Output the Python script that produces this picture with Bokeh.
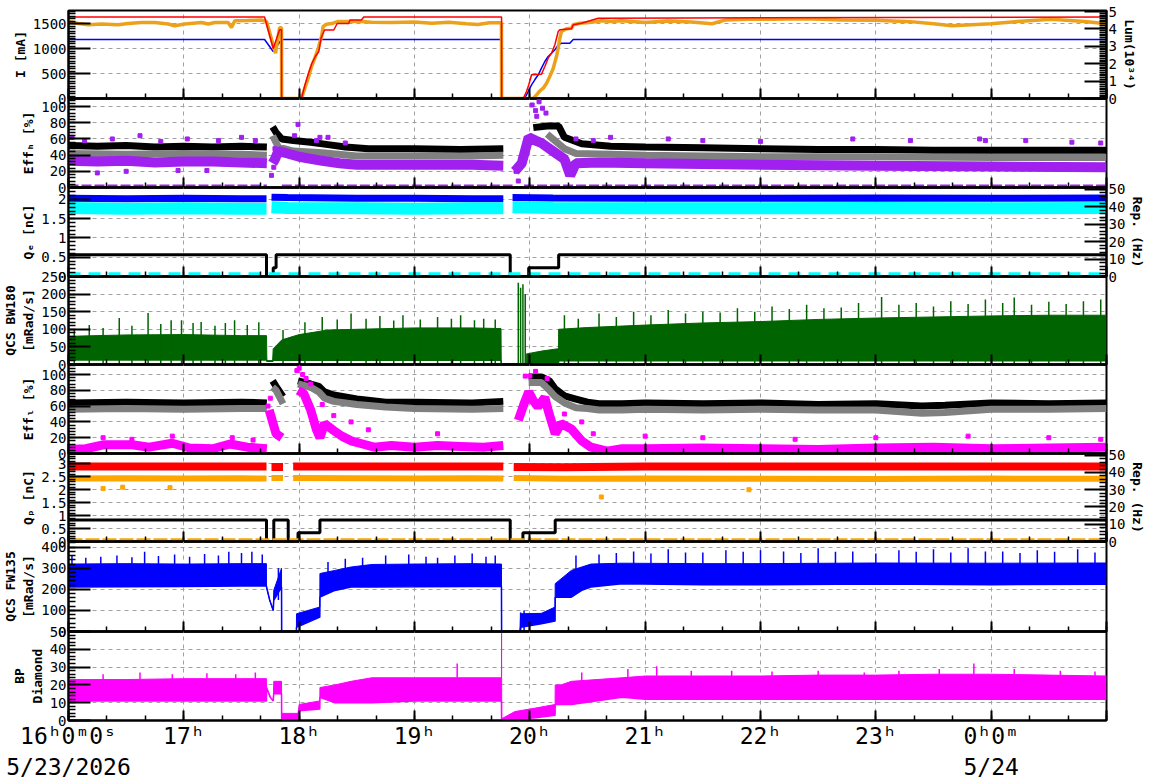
from bokeh.plotting import figure
from bokeh.layouts import column
from bokeh.models import Range1d, LinearAxis, FixedTicker, SingleIntervalTicker
from bokeh.embed import file_html
from bokeh.resources import INLINE

N = float("nan")

# ---------------- Panel 1 : beam currents [mA] and luminosity ----------------
i_red_t = [16.0, 17.70, 17.775, 17.83, 17.847, 17.848, 18.02, 18.05, 18.08, 18.11,
           18.14, 18.17, 18.18, 18.19, 18.22, 18.30, 18.33, 18.43, 18.44, 18.54,
           18.56, 19.755, 19.756, 19.943, 19.971, 19.991, 20.015, 20.101, 20.130, 20.159,
           20.188, 20.217, 20.246, 20.260, 20.361, 20.376, 20.448, 20.593, 25.0]
i_red = [1630, 1630, 1000, 1375, 1375, 0, 0, 270, 500, 700,
         840, 940, 1070, 1210, 1370, 1370, 1500, 1500, 1570, 1570,
         1630, 1630, 0, 0, 140, 274, 474, 486, 640, 806,
         906, 1074, 1340, 1374, 1394, 1474, 1506, 1606, 1630]
i_blue_t = [16.0, 17.70, 17.775, 17.847, 19.755, 19.756, 19.913, 19.957, 19.986, 20.015,
            20.043, 20.073, 20.101, 20.130, 20.159, 20.188, 20.217, 20.246, 20.275, 20.347,
            20.376, 25.0]
i_blue = [1180, 1180, 940, 1180, 1180, 0, 0, 6, 140, 274,
          374, 474, 606, 740, 840, 906, 974, 1074, 1106, 1106,
          1180, 1180]
lum_t = [16.0, 16.085, 16.17, 16.286, 16.43, 16.517, 16.633, 16.748, 16.864, 16.922,
         17.008, 17.153, 17.211, 17.269, 17.384, 17.413, 17.442, 17.55, 17.674, 17.717,
         17.795, 17.83, 17.847, 17.848, 17.992, 18.02, 18.049, 18.078, 18.107, 18.136,
         18.165, 18.194, 18.208, 18.237, 18.295, 18.338, 18.425, 18.54, 18.627, 18.8,
         19.0, 19.15, 19.3, 19.45, 19.55, 19.65, 19.754, 19.755, 20.029, 20.058,
         20.087, 20.116, 20.145, 20.173, 20.203, 20.231, 20.246, 20.26, 20.275, 20.318,
         20.361, 20.376, 20.433, 20.535, 20.621, 20.708, 20.795, 21.0, 21.2, 21.4,
         21.58, 21.7, 21.9, 22.1, 22.4, 22.7, 23.0, 23.3, 23.5, 23.66,
         24.0, 24.23, 24.52, 24.81, 25.0]
lum = [4.43, 4.31, 4.24, 4.28, 4.24, 4.31, 4.37, 4.37, 4.28, 4.18,
       4.28, 4.37, 4.28, 4.37, 4.37, 4.08, 4.47, 4.48, 4.51, 4.43,
       2.6, 4.07, 4.07, 0, 0, 0.02, 0.59, 1.17, 1.84, 2.32,
       2.89, 3.56, 4.14, 4.27, 4.33, 4.43, 4.43, 4.43, 4.39, 4.37,
       4.40, 4.33, 4.38, 4.30, 4.26, 4.35, 4.35, 0, 0, 0.21,
       0.44, 0.59, 0.88, 1.26, 1.74, 2.41, 2.89, 3.47, 3.85, 4.01,
       4.04, 4.24, 4.33, 4.39, 4.47, 4.43, 4.47, 4.37, 4.45, 4.40,
       4.30, 4.52, 4.56, 4.55, 4.58, 4.52, 4.50, 4.42, 4.30, 4.18,
       4.30, 4.43, 4.56, 4.43, 4.30]

# ---------------- Panel 2 : Eff_H [%] ----------------
eh_black_t = [16.0, 16.25, 16.5, 16.75, 17.0, 17.25, 17.5, 17.72, 17.745, 17.77,
              17.8, 17.85, 17.95, 18.1, 18.25, 18.4, 18.6, 19.0, 19.4, 19.77,
              19.9, 20.03, 20.15, 20.25, 20.3, 20.45, 20.7, 21.0, 21.5, 22.0,
              22.5, 23.0, 23.5, 24.0, 24.5, 25.0]
eh_black = [52, 51, 52, 50, 51, 50, 51, 50, N, 75,
            68, 60, 58, 56, 53, 50, 48, 48, 47, 48,
            N, 74, 76, 76, 62, 54, 51, 50, 49, 48,
            47, 47, 46, 46, 46, 46]
eh_gray_t = [16.0, 16.5, 17.0, 17.5, 17.72, 17.745, 17.77, 17.82, 17.95, 18.2,
             18.5, 19.0, 19.5, 19.77, 19.9, 20.15, 20.2, 20.3, 20.4, 20.7,
             21.0, 22.0, 23.0, 24.0, 25.0]
eh_gray = [42, 41, 42, 41, 40, N, 64, 50, 45, 43,
           39, 39, 39, 40, N, 66, 60, 48, 42, 41,
           40, 38, 38, 37, 37]
eh_purple_t = [16.0, 16.25, 16.5, 16.75, 17.0, 17.25, 17.5, 17.72, 17.745, 17.77,
               17.79, 17.82, 17.9, 18.0, 18.2, 18.35, 18.5, 19.0, 19.5, 19.77,
               19.8, 19.87, 19.93, 19.99, 20.05, 20.1, 20.2, 20.3, 20.35, 20.4,
               20.6, 21.0, 22.0, 23.0, 24.0, 25.0]
eh_purple = [33, 32, 33, 31, 32, 32, 31, 30, N, 30,
             35, 45, 42, 38, 33, 30, 28, 28, 28, 27,
             N, 20, 30, 62, 58, 55, 45, 35, 15, 30,
             31, 30, 28, 27, 26, 25]
eh_zero_t = [16.0, 17.72, 17.73, 17.85, 19.85, 19.86, 19.95, 25.0]
eh_zero = [0, 0, N, 0, 0, N, 0, 0]
eh_out_t = [16.03, 16.14, 16.25, 16.38, 16.5, 16.62, 16.8, 16.95, 17.03, 17.2,
            17.3, 17.5, 17.62, 17.76, 17.78, 17.79, 17.96, 17.99, 18.15, 18.18,
            18.25, 18.4, 19.88, 19.9, 19.92, 19.95, 20.02, 20.05, 20.06, 20.08,
            20.11, 20.14, 20.4, 20.55, 20.7, 21.2, 21.5, 22.0, 22.8, 23.3,
            23.9, 23.95, 24.3, 24.7, 24.95]
eh_out = [62, 58, 18, 60, 20, 64, 57, 21, 60, 21,
          58, 62, 58, 15, 25, 48, 64, 78, 58, 62,
          62, 55, 20, 8, 35, 45, 102, 95, 88, 106,
          98, 92, 60, 58, 62, 60, 58, 57, 60, 58,
          60, 58, 58, 56, 55]

# ---------------- Panel 3 : Q_e [nC] / Rep [Hz] ----------------
qe_t = [16.0, 16.5, 17.0, 17.5, 17.717, 17.74, 17.76, 17.9, 18.5, 19.0,
        19.5, 19.77, 19.81, 19.85, 20.2, 21.0, 22.0, 23.0, 24.0, 25.0]
qe_blue = [2.03, 2.02, 2.03, 2.02, 2.02, N, 2.06, 2.05, 2.03, 2.03,
           2.02, 2.02, N, 2.05, 2.04, 2.03, 2.03, 2.04, 2.03, 2.04]
qe_cyan = [1.78, 1.76, 1.77, 1.76, 1.76, N, 1.80, 1.78, 1.77, 1.76,
           1.77, 1.77, N, 1.80, 1.78, 1.77, 1.77, 1.78, 1.77, 1.78]
rep_e_t = [16.0, 17.717, 17.717, 17.775, 17.775, 17.80, 17.80, 19.83, 19.83, 19.99,
           19.99, 20.25, 20.25, 25.0]
rep_e = [12.5, 12.5, 0, 0, 5, 5, 12.5, 12.5, 0, 0,
         5, 5, 12.5, 12.5]
rep_e_zero_t = [16.0, 25.0]
rep_e_zero = [1.0, 1.0]

# ---------------- Panel 4 : QCS BW180 [mRad/s] ----------------
bw_t = [16.0, 16.5, 17.0, 17.5, 17.717, 17.72, 17.77, 17.775, 17.85, 17.95,
        18.0, 18.25, 18.5, 19.0, 19.5, 19.75, 19.752, 19.968, 19.97, 20.1,
        20.249, 20.25, 20.5, 21.0, 21.5, 22.0, 22.5, 23.0, 23.5, 24.0,
        24.5, 25.0]
bw_lo = [13, 13, 13, 13, 13, 9, 9, 12, 12, 12,
         12, 12, 12, 12, 12, 12, 1, 1, 3, 3,
         3, 11, 11, 11, 11, 11, 11, 11, 11, 11,
         11, 11]
bw_hi = [80, 84, 85, 82, 82, 11, 11, 45, 70, 80,
         85, 98, 100, 104, 104, 102, 2, 2, 30, 38,
         45, 100, 105, 112, 118, 122, 128, 132, 135, 138,
         140, 140]
bw_spike_t = [16.05, 16.18, 16.3, 16.44, 16.55, 16.69, 16.8, 16.89, 16.98, 17.08,
              17.15, 17.27, 17.36, 17.44, 17.55, 17.65, 17.86, 18.05, 18.2, 18.33,
              18.45, 18.58, 18.7, 18.82, 18.9, 19.05, 19.2, 19.32, 19.4, 19.52,
              19.6, 19.7, 19.90, 19.92, 19.94, 19.96, 20.3, 20.42, 20.6, 20.75,
              20.9, 21.05, 21.2, 21.35, 21.5, 21.65, 21.8, 21.95, 22.1, 22.25,
              22.4, 22.55, 22.7, 22.85, 23.05, 23.2, 23.35, 23.5, 23.65, 23.8,
              23.95, 24.1, 24.2, 24.35, 24.5, 24.65, 24.8, 24.95]
bw_spike = [100, 112, 104, 132, 110, 146, 115, 126, 126, 118,
            121, 110, 118, 126, 112, 120, 98, 120, 135, 128,
            145, 130, 138, 125, 140, 128, 135, 130, 140, 126,
            130, 128, 232, 218, 228, 200, 140, 130, 145, 135,
            150, 140, 155, 145, 150, 148, 160, 150, 165, 158,
            170, 160, 162, 175, 192, 170, 175, 165, 180, 172,
            185, 175, 190, 170, 178, 172, 180, 185]
bw_spike_base = 1

# ---------------- Panel 5 : Eff_L [%] ----------------
el_t = [16.0, 16.5, 17.0, 17.5, 17.72, 17.745, 17.77, 17.8, 17.86, 17.9,
        17.99, 18.1, 18.17, 18.22, 18.3, 18.5, 18.75, 19.0, 19.5, 19.77,
        19.9, 19.99, 20.1, 20.17, 20.22, 20.3, 20.4, 20.5, 20.6, 20.8,
        21.0, 21.5, 22.0, 22.5, 23.0, 23.4, 23.6, 24.0, 24.5, 25.0]
el_black = [64, 65, 64, 65, 64, N, 92, 85, 72, N,
            92, 88, 85, 78, 74, 69, 65, 65, 64, 66,
            N, 97, 97, 92, 82, 73, 69, 65, 63, 63,
            64, 63, 64, 62, 63, 60, 61, 64, 63, 64]
el_gray = [56, 57, 56, 57, 57, N, 84, 80, 63, N,
           88, 84, 78, 70, 66, 62, 59, 57, 56, 57,
           N, 90, 90, 80, 72, 64, 58, 57, 55, 55,
           56, 55, 56, 55, 55, 51, 52, 56, 56, 57]
el_mag_t = [16.0, 16.15, 16.3, 16.55, 16.7, 16.9, 17.05, 17.25, 17.4, 17.55,
            17.72, 17.73, 17.74, 17.77, 17.8, 17.85, 17.9, 17.99, 18.04, 18.1,
            18.15, 18.18, 18.22, 18.3, 18.37, 18.45, 18.55, 18.65, 18.8, 19.0,
            19.2, 19.4, 19.6, 19.77, 19.83, 19.9, 19.95, 19.99, 20.03, 20.07,
            20.13, 20.16, 20.22, 20.27, 20.36, 20.45, 20.53, 20.67, 20.8, 21.0,
            21.5, 22.0, 22.5, 23.0, 23.5, 24.0, 24.5, 25.0]
el_mag = [5, 6, 11, 11, 8, 13, 7, 6, 12, 8,
          6, N, 55, 40, 25, 20, N, 80, 76, 55,
          30, 20, 38, 29, 22, 16, 12, 8, 10, 8,
          10, 9, 8, 10, N, 42, 63, 78, 67, 59,
          71, 54, 25, 38, 31, 16, 8, 3, 6, 6,
          7, 6, 5, 7, 8, 6, 7, 8]
el_out_t = [16.3, 16.55, 16.9, 17.42, 17.6, 17.73, 17.75, 17.98, 18.0, 18.03,
            18.06, 18.1, 18.2, 18.3, 18.45, 18.6, 19.2, 19.93, 19.96, 20.0,
            20.05, 20.15, 20.3, 20.45, 20.55, 21.0, 21.5, 22.3, 23.0, 23.8,
            24.5, 24.95]
el_out = [20, 18, 22, 20, 17, 60, 70, 105, 108, 100,
          95, 88, 62, 48, 40, 30, 25, 60, 98, 98,
          104, 95, 50, 40, 25, 22, 20, 18, 20, 22,
          20, 18]

# ---------------- Panel 6 : Q_p [nC] / Rep [Hz] ----------------
qp_t = [16.0, 16.5, 17.0, 17.5, 17.717, 17.74, 17.76, 17.86, 17.9, 17.948,
        18.5, 19.0, 19.5, 19.77, 19.82, 19.86, 20.3, 21.0, 22.0, 23.0,
        24.0, 25.0]
qp_red = [2.9, 2.9, 2.9, 2.9, 2.9, N, 2.88, 2.88, N, 2.9,
          2.9, 2.9, 2.9, 2.9, N, 2.88, 2.87, 2.9, 2.9, 2.9,
          2.9, 2.9]
qp_orange = [2.43, 2.44, 2.43, 2.44, 2.43, N, 2.45, 2.45, N, 2.45,
             2.44, 2.43, 2.44, 2.43, N, 2.45, 2.42, 2.43, 2.42, 2.41,
             2.43, 2.42]
qp_out_t = [16.3, 16.47, 16.88, 20.62, 21.9]
qp_out = [2.05, 2.1, 2.08, 1.72, 2.0]
rep_p_t = [16.0, 17.717, 17.717, 17.78, 17.78, 17.905, 17.905, 17.99, 17.99, 18.18,
           18.18, 19.83, 19.83, 19.94, 19.94, 20.22, 20.22, 25.0]
rep_p = [12.5, 12.5, 0, 0, 12.5, 12.5, 0, 0, 5, 5,
         12.5, 12.5, 0, 0, 5, 5, 12.5, 12.5]
rep_p_zero_t = [16.0, 25.0]
rep_p_zero = [0.7, 0.7]

# ---------------- Panel 7 : QCS FW135 [mRad/s] ----------------
fw_t = [16.0, 16.5, 17.0, 17.5, 17.716, 17.717, 17.745, 17.775, 17.78, 17.847,
        17.848, 17.976, 17.977, 18.179, 18.18, 18.31, 18.45, 18.63, 19.0, 19.5,
        19.754, 19.755, 19.915, 19.92, 20.1, 20.219, 20.22, 20.36, 20.45, 20.53,
        20.8, 21.5, 22.0, 23.0, 24.0, 25.0]
fw_lo = [211, 212, 214, 216, 216, 211, 148, 100, 148, 211,
         0, 0, 20, 68, 163, 195, 211, 211, 212, 214,
         214, 0, 0, 20, 37, 50, 163, 163, 195, 211,
         227, 222, 222, 225, 222, 224]
fw_hi = [320, 322, 320, 322, 322, 211, 148, 100, 196, 300,
         0, 0, 84, 116, 275, 290, 306, 318, 320, 322,
         320, 0, 0, 84, 86, 116, 227, 290, 306, 320,
         324, 322, 322, 325, 324, 325]
fw_spike_t = [16.03, 16.15, 16.28, 16.42, 16.55, 16.66, 16.78, 16.92, 17.05, 17.18,
              17.3, 17.39, 17.5, 17.59, 17.68, 17.82, 18.25, 18.4, 18.55, 18.75,
              18.95, 19.1, 19.2, 19.35, 19.5, 19.62, 19.7, 19.92, 19.95, 20.4,
              20.6, 20.75, 20.9, 21.05, 21.2, 21.35, 21.5, 21.7, 21.85, 22.0,
              22.2, 22.35, 22.5, 22.65, 22.8, 23.0, 23.2, 23.35, 23.5, 23.65,
              23.8, 23.95, 24.1, 24.25, 24.4, 24.55, 24.75, 24.9]
fw_spike = [362, 350, 355, 360, 352, 378, 358, 365, 355, 368,
            360, 378, 372, 378, 365, 300, 330, 345, 350, 360,
            365, 355, 350, 360, 370, 355, 360, 90, 100, 360,
            365, 372, 380, 370, 390, 375, 375, 385, 378, 385,
            380, 372, 395, 378, 380, 370, 385, 378, 390, 375,
            395, 380, 380, 372, 385, 378, 390, 375]
fw_spike_lo = [220, 220, 220, 220, 220, 220, 220, 220, 220, 220,
               220, 220, 220, 220, 220, 150, 200, 210, 215, 220,
               220, 220, 220, 220, 220, 220, 220, 0, 0, 220,
               225, 225, 225, 225, 225, 225, 225, 225, 225, 225,
               225, 225, 225, 225, 225, 225, 225, 225, 225, 225,
               225, 225, 225, 225, 225, 225, 225, 225]

# ---------------- Panel 8 : BP Diamond ----------------
bp_t = [16.0, 16.5, 17.0, 17.5, 17.716, 17.717, 17.75, 17.775, 17.78, 17.847,
        17.848, 17.99, 18.0, 18.179, 18.18, 18.31, 18.45, 18.63, 19.0, 19.5,
        19.754, 19.755, 19.756, 19.87, 20.05, 20.219, 20.22, 20.27, 20.36, 20.8,
        21.0, 21.5, 22.0, 22.5, 23.0, 23.5, 24.0, 24.5, 25.0]
bp_lo = [11, 11, 11, 11, 11, 18.5, 13, 11, 15, 15,
         1, 1, 5.5, 6.5, 13, 10, 10, 10, 11, 11,
         11, 0, 0, 0.5, 1.5, 3, 9, 9, 9, 13,
         12, 12, 12, 12, 12, 12, 12, 12, 12]
bp_hi = [23, 23, 23.5, 23.5, 23.5, 18.5, 13, 11, 22, 22,
         4, 4, 9, 11, 18.5, 20, 22, 24, 24, 24,
         24, 49, 1, 5, 7, 9, 20, 20, 22, 24,
         25, 25, 25, 25.5, 25.5, 26, 26, 25.5, 25]
bp_spike_t = [16.3, 16.62, 16.9, 17.2, 17.45, 17.62, 19.37, 20.45, 20.85, 21.1,
              21.4, 21.75, 22.1, 22.5, 22.9, 23.2, 23.55, 23.85, 24.2, 24.6, 24.9]
bp_spike = [26, 27, 26, 26.5, 26, 27, 32, 27, 29, 30.5,
            28, 28, 27.5, 28, 27, 28, 29, 32, 29, 28, 27.5]
bp_spike_base = 18

# ---------------- axis ticks / labels ----------------
HOURS = [16, 17, 18, 19, 20, 21, 22, 23, 24, 25]
MINOR_X = [16 + k / 3 for k in range(28)]
HOUR_LABELS = {16: "16\u02b00\u1d500\u02e2\n5/23/2026", 17: "17\u02b0", 18: "18\u02b0",
               19: "19\u02b0", 20: "20\u02b0", 21: "21\u02b0", 22: "22\u02b0",
               23: "23\u02b0", 24: "0\u02b00\u1d50\n5/24", 25: " "}

FONT = "DejaVu Sans Mono"
GRID = "#a0a0a0"
x_range = Range1d(16.0, 25.0)


def style_y(ax, step, minor):
    ax.ticker = SingleIntervalTicker(interval=step, num_minor_ticks=minor)
    ax.major_tick_in = 22
    ax.major_tick_out = 0
    ax.minor_tick_in = 7
    ax.minor_tick_out = 0
    ax.major_tick_line_width = 2
    ax.minor_tick_line_width = 1.5
    ax.major_tick_line_color = "black"
    ax.minor_tick_line_color = "black"
    ax.axis_line_width = 2
    ax.axis_line_color = "black"
    ax.major_label_text_font = FONT
    ax.major_label_text_font_size = "14px"
    ax.major_label_text_color = "black"
    ax.major_label_standoff = 2
    ax.axis_label_text_font = FONT
    ax.axis_label_text_font_size = "13px"
    ax.axis_label_text_font_style = "bold"
    ax.axis_label_text_color = "black"
    ax.axis_label_standoff = 2


def style_x(ax):
    ax.axis_line_width = 2
    ax.axis_line_color = "black"
    ax.major_tick_out = 0
    ax.minor_tick_out = 0
    ax.major_tick_line_width = 2
    ax.minor_tick_line_width = 1.5
    ax.major_tick_line_color = "black"
    ax.minor_tick_line_color = "black"


def panel(frame_h, yr, step, minor, label, first=False, last=False):
    p = figure(x_range=x_range, y_range=Range1d(*yr), frame_width=1038, frame_height=frame_h,
               min_border_left=67, min_border_right=67,
               min_border_top=10 if first else 8, min_border_bottom=58 if last else 8,
               output_backend="svg", toolbar_location=None)
    p.background_fill_alpha = 0
    p.border_fill_alpha = 0
    p.outline_line_color = "black"
    p.outline_line_width = 2
    if not first:
        p.margin = (-16, 0, 0, 0)
    xa = p.xaxis[0]
    style_x(xa)
    if last:
        xa.ticker = FixedTicker(ticks=HOURS, minor_ticks=MINOR_X)
        xa.major_tick_in = 10
        xa.minor_tick_in = 5
        xa.major_label_overrides = HOUR_LABELS
        xa.major_label_text_font = FONT
        xa.major_label_text_color = "black"
        xa.major_label_text_font_size = "23px"
        xa.major_label_standoff = 2
    else:
        # hour ticks (long) and 20-minute ticks (short), no tick labels
        xa.ticker = FixedTicker(ticks=[], minor_ticks=HOURS)
        xa.minor_tick_in = 10
        xa.minor_tick_line_width = 2
        xb = LinearAxis(ticker=FixedTicker(ticks=[], minor_ticks=MINOR_X))
        style_x(xb)
        xb.minor_tick_in = 5
        p.add_layout(xb, "below")
    style_y(p.yaxis[0], step, minor)
    p.yaxis[0].axis_label = label
    p.xgrid.ticker = FixedTicker(ticks=HOURS)
    for g in (p.xgrid, p.ygrid):
        g.grid_line_color = GRID
        g.grid_line_dash = "4 4"
        g.grid_line_width = 1
    return p


def right_axis(p, yr, step, minor, label):
    p.extra_y_ranges = {"r": Range1d(*yr)}
    ax = LinearAxis(y_range_name="r", axis_label=label)
    style_y(ax, step, minor)
    p.add_layout(ax, "right")


# Panel 1
p1 = panel(88, (0, 1760), 500, 10, "I [mA]", first=True)
right_axis(p1, (0, 5.06), 1, 10, "Lum(10\u00b3\u2074)")
p1.line(i_blue_t, i_blue, line_color="#0000ff", line_width=1.5)
p1.line(lum_t, lum, line_color="#eba21a", line_width=3.5, y_range_name="r")
p1.line(i_red_t, i_red, line_color="#ff0000", line_width=1.5)

# Panel 2
p2 = panel(89, (0, 110), 20, 5, "Eff\u2095 [%]")
p2.line(eh_black_t, eh_black, line_color="black", line_width=7)
p2.line(eh_gray_t, eh_gray, line_color="#808080", line_width=7)
p2.line(eh_purple_t, eh_purple, line_color="#a020f0", line_width=10)
p2.scatter(eh_out_t, eh_out, marker="square", size=4, color="#a020f0")
p2.line(eh_zero_t, eh_zero, line_color="#a020f0", line_width=6, line_dash="10 3")

# Panel 3
p3 = panel(89, (0, 2.31), 0.5, 5, "Q\u2091 [nC]")
right_axis(p3, (0, 51), 10, 5, "Rep. (Hz)")
p3.line(qe_t, qe_blue, line_color="#0000ff", line_width=7)
p3.line(qe_t, qe_cyan, line_color="#00ffff", line_width=12)
p3.line(rep_e_t, rep_e, line_color="black", line_width=3, y_range_name="r")
p3.line(rep_e_zero_t, rep_e_zero, line_color="#00ffff", line_width=5, line_dash="12 8",
        y_range_name="r")

# Panel 4
p4 = panel(88, (0, 250), 50, 5, "QCS BW180\n[mRad/s]")
p4.varea(x=bw_t, y1=bw_lo, y2=bw_hi, fill_color="#006400")
p4.line(bw_t, bw_lo, line_color="#006400", line_width=1.5)
p4.line(bw_t, bw_hi, line_color="#006400", line_width=1)
p4.segment(x0=bw_spike_t, y0=bw_spike_base, x1=bw_spike_t, y1=bw_spike,
           line_color="#006400", line_width=1.5)

# Panel 5
p5 = panel(89, (0, 112.7), 20, 5, "Eff\u2097 [%]")
p5.line(el_t, el_black, line_color="black", line_width=7)
p5.line(el_t, el_gray, line_color="#808080", line_width=7)
p5.line(el_mag_t, el_mag, line_color="#ff00ff", line_width=9)
p5.scatter(el_out_t, el_out, marker="square", size=4, color="#ff00ff")

# Panel 6
p6 = panel(88, (0, 3.4), 0.5, 5, "Q\u209a [nC]")
right_axis(p6, (0, 51), 10, 5, "Rep. (Hz)")
p6.line(qp_t, qp_red, line_color="#ff0000", line_width=8)
p6.line(qp_t, qp_orange, line_color="#ffa500", line_width=6)
p6.scatter(qp_out_t, qp_out, marker="square", size=4, color="#ffa500")
p6.line(rep_p_t, rep_p, line_color="black", line_width=3, y_range_name="r")
p6.line(rep_p_zero_t, rep_p_zero, line_color="#ffa500", line_width=4, line_dash="14 3",
        y_range_name="r")

# Panel 7
p7 = panel(90, (0, 427), 100, 5, "QCS FW135\n[mRad/s]")
p7.varea(x=fw_t, y1=fw_lo, y2=fw_hi, fill_color="#0000ff")
p7.line(fw_t, fw_lo, line_color="#0000ff", line_width=1.5)
p7.line(fw_t, fw_hi, line_color="#0000ff", line_width=1)
p7.segment(x0=fw_spike_t, y0=fw_spike_lo, x1=fw_spike_t, y1=fw_spike,
           line_color="#0000ff", line_width=1.5)

# Panel 8
p8 = panel(89, (0, 50), 10, 5, "BP\nDiamond", last=True)
p8.varea(x=bp_t, y1=bp_lo, y2=bp_hi, fill_color="#ff00ff")
p8.line(bp_t, bp_lo, line_color="#ff00ff", line_width=1.5)
p8.line(bp_t, bp_hi, line_color="#ff00ff", line_width=1)
p8.segment(x0=bp_spike_t, y0=bp_spike_base, x1=bp_spike_t, y1=bp_spike,
           line_color="#ff00ff", line_width=1.5)

layout = column(p1, p2, p3, p4, p5, p6, p7, p8, spacing=0)
open("out.html", "w").write(file_html(layout, INLINE))
